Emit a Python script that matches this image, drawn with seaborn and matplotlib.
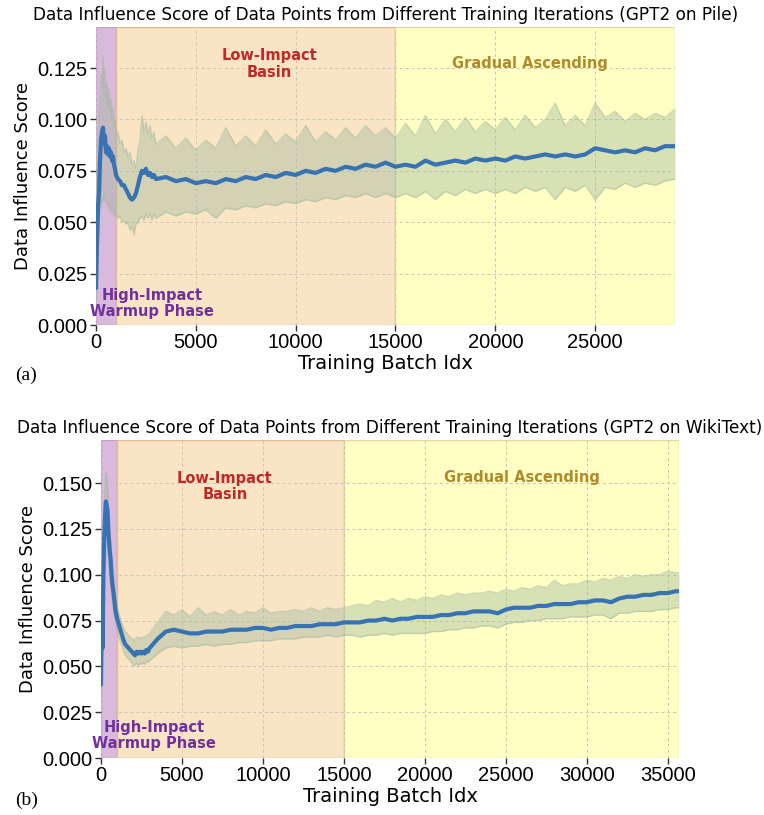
import numpy as np
import pandas as pd
import matplotlib
matplotlib.use("Agg")
import matplotlib.pyplot as plt
import seaborn as sns

# ---------------- data (a): GPT2 on Pile ----------------
batch_a = list(range(0, 1000, 50)) + list(range(1000, 3000, 100)) + list(range(3000, 29001, 500))
mean_a = [
    0.018, 0.040, 0.058, 0.064, 0.080, 0.090, 0.094, 0.096, 0.088, 0.092,
    0.084, 0.087, 0.083, 0.086, 0.082, 0.084, 0.080, 0.082, 0.078, 0.076,
    0.073, 0.071, 0.070, 0.068, 0.068, 0.066, 0.064, 0.062, 0.061, 0.062,
    0.064, 0.068, 0.072, 0.075, 0.074, 0.076, 0.073, 0.074, 0.072, 0.073,
    0.071, 0.072, 0.070, 0.071, 0.069, 0.070, 0.069, 0.071, 0.070, 0.072,
    0.071, 0.073, 0.072, 0.074, 0.073, 0.075, 0.074, 0.076, 0.075, 0.077,
    0.076, 0.078, 0.077, 0.079, 0.077, 0.078, 0.077, 0.080, 0.078, 0.079,
    0.080, 0.079, 0.081, 0.080, 0.081, 0.080, 0.082, 0.081, 0.082, 0.083,
    0.082, 0.083, 0.082, 0.083, 0.086, 0.085, 0.084, 0.085, 0.084, 0.086,
    0.085, 0.087, 0.087,
]
upper_a = [
    0.030, 0.070, 0.095, 0.100, 0.112, 0.122, 0.118, 0.131, 0.112, 0.125,
    0.110, 0.118, 0.106, 0.115, 0.104, 0.110, 0.100, 0.106, 0.097, 0.100,
    0.092, 0.094, 0.088, 0.090, 0.084, 0.086, 0.082, 0.084, 0.078, 0.080,
    0.076, 0.085, 0.090, 0.102, 0.094, 0.099, 0.093, 0.097, 0.091, 0.094,
    0.088, 0.092, 0.086, 0.091, 0.085, 0.090, 0.086, 0.096, 0.087, 0.092,
    0.087, 0.095, 0.088, 0.093, 0.089, 0.097, 0.089, 0.094, 0.090, 0.096,
    0.091, 0.097, 0.092, 0.096, 0.091, 0.098, 0.092, 0.102, 0.093, 0.100,
    0.094, 0.101, 0.094, 0.099, 0.095, 0.101, 0.095, 0.102, 0.096, 0.100,
    0.108, 0.097, 0.102, 0.097, 0.108, 0.101, 0.104, 0.099, 0.103, 0.100,
    0.103, 0.101, 0.105,
]
lower_a = [
    0.012, 0.025, 0.040, 0.048, 0.055, 0.058, 0.062, 0.060, 0.064, 0.060,
    0.062, 0.058, 0.060, 0.056, 0.059, 0.055, 0.057, 0.054, 0.056, 0.053,
    0.054, 0.052, 0.053, 0.050, 0.051, 0.049, 0.050, 0.046, 0.048, 0.044,
    0.049, 0.050, 0.052, 0.053, 0.051, 0.054, 0.052, 0.054, 0.051, 0.054,
    0.052, 0.055, 0.053, 0.055, 0.054, 0.056, 0.052, 0.057, 0.056, 0.058,
    0.057, 0.059, 0.058, 0.060, 0.059, 0.061, 0.060, 0.062, 0.061, 0.063,
    0.062, 0.064, 0.062, 0.064, 0.062, 0.064, 0.062, 0.065, 0.061, 0.065,
    0.063, 0.066, 0.064, 0.066, 0.064, 0.066, 0.064, 0.067, 0.065, 0.067,
    0.061, 0.067, 0.065, 0.068, 0.061, 0.067, 0.066, 0.069, 0.067, 0.069,
    0.068, 0.070, 0.071,
]

# ---------------- data (b): GPT2 on WikiText ----------------
batch_b = list(range(0, 1000, 50)) + list(range(1000, 3000, 100)) + list(range(3000, 35501, 500)) + [35700]
mean_b = [
    0.040, 0.085, 0.060, 0.100, 0.120, 0.132, 0.140, 0.138, 0.135, 0.124,
    0.118, 0.112, 0.108, 0.100, 0.095, 0.092, 0.088, 0.084, 0.080, 0.078,
    0.076, 0.073, 0.070, 0.067, 0.064, 0.062, 0.061, 0.060, 0.059, 0.058,
    0.057, 0.056, 0.058, 0.057, 0.058, 0.057, 0.058, 0.057, 0.059, 0.058,
    0.060, 0.065, 0.069, 0.070, 0.069, 0.068, 0.068, 0.069, 0.069, 0.069,
    0.070, 0.070, 0.070, 0.071, 0.071, 0.070, 0.071, 0.071, 0.072, 0.072,
    0.072, 0.073, 0.073, 0.073, 0.074, 0.074, 0.074, 0.075, 0.075, 0.076,
    0.075, 0.076, 0.076, 0.077, 0.077, 0.077, 0.078, 0.078, 0.079, 0.079,
    0.080, 0.080, 0.080, 0.079, 0.081, 0.082, 0.082, 0.082, 0.083, 0.083,
    0.084, 0.084, 0.084, 0.085, 0.085, 0.086, 0.086, 0.085, 0.087, 0.088,
    0.088, 0.089, 0.089, 0.090, 0.090, 0.091, 0.091,
]
upper_b = [
    0.045, 0.090, 0.075, 0.112, 0.135, 0.148, 0.156, 0.155, 0.150, 0.138,
    0.130, 0.124, 0.118, 0.110, 0.104, 0.100, 0.096, 0.092, 0.088, 0.085,
    0.082, 0.079, 0.076, 0.073, 0.071, 0.069, 0.068, 0.067, 0.066, 0.065,
    0.065, 0.064, 0.066, 0.065, 0.066, 0.065, 0.066, 0.066, 0.067, 0.067,
    0.068, 0.074, 0.080, 0.078, 0.081, 0.077, 0.082, 0.078, 0.080, 0.078,
    0.081, 0.078, 0.080, 0.079, 0.082, 0.079, 0.080, 0.080, 0.081, 0.080,
    0.082, 0.080, 0.082, 0.081, 0.082, 0.083, 0.084, 0.083, 0.086, 0.085,
    0.087, 0.085, 0.087, 0.086, 0.088, 0.087, 0.089, 0.088, 0.090, 0.089,
    0.090, 0.090, 0.091, 0.090, 0.092, 0.091, 0.093, 0.092, 0.094, 0.093,
    0.097, 0.094, 0.095, 0.095, 0.097, 0.096, 0.098, 0.097, 0.099, 0.098,
    0.100, 0.099, 0.100, 0.100, 0.102, 0.101, 0.101,
]
lower_b = [
    0.033, 0.078, 0.050, 0.090, 0.108, 0.118, 0.126, 0.125, 0.120, 0.110,
    0.104, 0.099, 0.095, 0.089, 0.085, 0.082, 0.079, 0.076, 0.073, 0.071,
    0.069, 0.066, 0.063, 0.061, 0.058, 0.056, 0.055, 0.054, 0.053, 0.052,
    0.050, 0.051, 0.052, 0.050, 0.052, 0.051, 0.052, 0.051, 0.053, 0.052,
    0.053, 0.057, 0.060, 0.061, 0.060, 0.061, 0.061, 0.062, 0.061, 0.062,
    0.062, 0.063, 0.063, 0.064, 0.064, 0.064, 0.065, 0.065, 0.065, 0.066,
    0.066, 0.066, 0.067, 0.066, 0.067, 0.067, 0.066, 0.067, 0.067, 0.068,
    0.067, 0.068, 0.068, 0.068, 0.068, 0.069, 0.069, 0.070, 0.070, 0.071,
    0.071, 0.072, 0.072, 0.071, 0.073, 0.074, 0.074, 0.075, 0.075, 0.076,
    0.076, 0.076, 0.077, 0.077, 0.077, 0.078, 0.078, 0.076, 0.079, 0.079,
    0.080, 0.080, 0.080, 0.081, 0.081, 0.082, 0.082,
]

phase_bounds = [0, 1000, 15000]
phase_colors = ["#d9b9dc", "#f9e5c3", "#ffffc4"]
phase_edges = ["#c9a0cc", "#e8b890", "#e8d8a0"]

titles = [
    "Data Influence Score of Data Points from Different Training Iterations (GPT2 on Pile)",
    "Data Influence Score of Data Points from Different Training Iterations (GPT2 on WikiText)",
]
panel_labels = ["(a)", "(b)"]

sns.set_theme(style="whitegrid")
plt.rcParams["font.family"] = ["DejaVu Sans"]
plt.rcParams["text.color"] = "black"
plt.rcParams["axes.labelcolor"] = "black"
plt.rcParams["xtick.color"] = "black"
plt.rcParams["ytick.color"] = "black"

fig = plt.figure(figsize=(7.64, 8.15), dpi=100)
ax_a = fig.add_axes([0.1257, 0.6012, 0.7578, 0.3657])
ax_b = fig.add_axes([0.1322, 0.0699, 0.7565, 0.3902])

configs = [
    (ax_a, batch_a, mean_a, upper_a, lower_a, 29000, 0.145, [0.0, 0.025, 0.05, 0.075, 0.1, 0.125],
     [(2800, 0.0105), (8700, 0.127), (21750, 0.127)]),
    (ax_b, batch_b, mean_b, upper_b, lower_b, 35700, 0.1735, [0.0, 0.025, 0.05, 0.075, 0.1, 0.125, 0.15],
     [(3300, 0.0125), (7650, 0.148), (26000, 0.153)]),
]

line_color = "#3772b2"
band_color = "#a0b8a0"
ann_texts = ["High-Impact\nWarmup Phase", "Low-Impact\nBasin", "Gradual Ascending"]
ann_colors = ["#7030a0", "#c0282a", "#b08a2c"]

for i, (ax, bx, m, up, lo, xmax, ymax, yt, ann_pos) in enumerate(configs):
    df = pd.DataFrame({"batch": bx, "score": m, "upper": up, "lower": lo})
    bounds = phase_bounds + [xmax]
    for j in range(3):
        ax.axvspan(bounds[j], bounds[j + 1], facecolor=phase_colors[j], edgecolor=phase_edges[j],
                   lw=1.0, zorder=0)
    ax.fill_between(df["batch"], df["lower"], df["upper"], color=band_color, alpha=0.42, lw=0, zorder=2)
    ax.plot(df["batch"], df["upper"], color=band_color, alpha=0.5, lw=1.0, zorder=2)
    ax.plot(df["batch"], df["lower"], color=band_color, alpha=0.5, lw=1.0, zorder=2)
    sns.lineplot(data=df, x="batch", y="score", ax=ax, color=line_color, lw=3.0, zorder=3)

    ax.set_xlim(0, xmax)
    ax.set_ylim(0, ymax)
    ax.set_yticks(yt)
    ax.set_yticklabels([f"{v:.3f}" for v in yt], fontsize=14.5, family="Liberation Sans")
    xt = list(range(0, xmax + 1, 5000))
    ax.set_xticks(xt)
    ax.set_xticklabels([str(v) for v in xt], fontsize=14.5, family="Liberation Sans")
    ax.tick_params(axis="both", which="both", length=4, width=1, color="#333333", pad=2,
                   left=True, bottom=True)
    ax.grid(True, linestyle=(0, (3, 3)), color="#c4c4c4", lw=0.7)
    for s in ax.spines.values():
        s.set_visible(False)
    ax.set_xlabel("Training Batch Idx", fontsize=14, labelpad=1)
    ax.set_ylabel("Data Influence Score", fontsize=13, labelpad=4)
    ax.set_title(titles[i], fontsize=12.2, pad=5)
    for k in range(3):
        ax.text(ann_pos[k][0], ann_pos[k][1], ann_texts[k], color=ann_colors[k], fontsize=10.5,
                fontweight="bold", ha="center", va="center", linespacing=1.1, zorder=5)

fig.text(15 / 764, 1 - 375 / 815, panel_labels[0], fontsize=14, family="Liberation Serif", va="center")
fig.text(15 / 764, 1 - 800 / 815, panel_labels[1], fontsize=14, family="Liberation Serif", va="center")

fig.savefig("out.png", dpi=100)
